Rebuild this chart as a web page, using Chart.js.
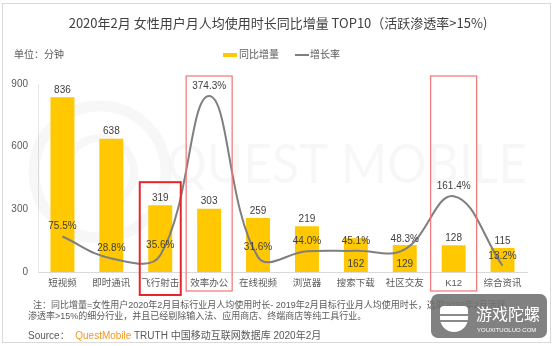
<html>
  <head>
    <meta charset="utf-8">
    <title>女性用户月人均使用时长同比增量 TOP10</title>
    <script type="text/javascript" src="https://cdn.jsdelivr.net/npm/chart.js@4.4.1/dist/chart.umd.min.js"></script>
    <style>
      body { margin: 0; background: #fff; }
      #wrap { position: relative; width: 556px; height: 346px; overflow: hidden;
              font-family: "Liberation Sans", "Noto Sans CJK SC", sans-serif; color: #595959; }
      #wrap canvas { position: absolute; left: 0; top: 0; }
      .txt { position: absolute; white-space: nowrap; line-height: 1; }
      #frame { position: absolute; left: 2px; top: 3px; width: 547px; height: 338px; border: 1px solid #d9d9d9; pointer-events: none; }
      #title { left: 0; width: 556px; top: 16px; text-align: center; font-size: 13px; color: #404040; font-family: "Noto Sans CJK SC", sans-serif; }
      .sw { position: absolute; }
      #logo { position: absolute; left: 431px; top: 294px; width: 116px; height: 44px; border-radius: 7px; background: rgba(112,112,112,0.88); }
    </style>
  </head>
  <body>
    <div id="wrap">
      <canvas id="growthChart" width="556" height="346"></canvas>
      <div id="frame"></div>
      <div class="txt" id="title">2020年2月 女性用户月人均使用时长同比增量 TOP10（活跃渗透率&gt;15%)</div>
      <div class="txt" style="left:14px;top:50px;font-size:10px;">单位：分钟</div>
      <div class="sw" style="left:223px;top:53px;width:14px;height:4px;background:#ffc800;"></div>
      <div class="txt" style="left:239px;top:50px;font-size:10px;">同比增量</div>
      <div class="sw" style="left:295px;top:54px;width:14px;height:2px;background:#7f7f7f;"></div>
      <div class="txt" style="left:310px;top:50px;font-size:10px;">增长率</div>
      <div class="txt" style="left:33px;top:301px;font-size:9px;">注：同比增量=女性用户2020年2月目标行业月人均使用时长- 2019年2月目标行业月人均使用时长，选取2020年2月活跃</div>
      <div class="txt" style="left:28px;top:312px;font-size:9px;">渗透率&gt;15%的细分行业，并且已经剔除输入法、应用商店、终端商店等纯工具行业。</div>
      <div class="txt" style="left:28px;top:331px;font-size:10px;">Source：&nbsp; <span style="color:#f39a1e;">QuestMobile</span> TRUTH 中国移动互联网数据库 2020年2月</div>
      <div id="logo">
        <div class="sw" style="left:9px;top:12px;width:28px;height:26px;border-radius:4px 4px 14px 14px;background:#fff;"></div>
        <div class="sw" style="left:9px;top:20px;width:28px;height:2px;background:#8a8a8a;"></div>
        <div class="sw" style="left:9px;top:26px;width:28px;height:2px;background:#8a8a8a;"></div>
        <div class="txt" style="left:45px;top:11px;font-size:16px;color:#fff;font-family:'Noto Sans CJK SC',sans-serif;">游戏陀螺</div>
        <div class="txt" style="left:46px;top:33px;font-size:6px;color:#fff;">YOUXITUOLUO.COM</div>
      </div>
    </div>
    <script>
      var categories = ['短视频', '即时通讯', '飞行射击', '效率办公', '在线视频', '浏览器', '搜索下载', '社区交友', 'K12', '综合资讯'];
      var increase = [836, 638, 319, 303, 259, 219, 162, 129, 128, 115];
      var growthRate = [75.5, 28.8, 35.6, 374.3, 31.6, 44.0, 45.1, 48.3, 161.4, 13.2];

      // bars whose value label sits inside the bar, and boxed categories
      var insideLabels = [6, 7];
      var boxes = [
        {index: 2, half: 20.5, topValue: 430, extra: 23, color: '#e8262a', width: 2},
        {index: 3, half: 23, topValue: null, extra: 19, color: '#f27474', width: 1.2},
        {index: 8, half: 23, topValue: null, extra: 19, color: '#f27474', width: 1.2}
      ];

      var overlay = {
        id: 'overlay',
        beforeDatasetsDraw: function(chart) {
          var ctx = chart.ctx;
          ctx.save();
          // faint watermark
          ctx.strokeStyle = 'rgba(0,0,0,0.03)';
          ctx.lineWidth = 11;
          ctx.beginPath();
          ctx.arc(100, 172, 66, 0, Math.PI * 2);
          ctx.stroke();
          ctx.lineWidth = 8;
          ctx.beginPath();
          ctx.arc(100, 172, 34, Math.PI * 0.9, Math.PI * 2.3);
          ctx.stroke();
          ctx.fillStyle = 'rgba(0,0,0,0.03)';
          ctx.font = '54px Lato';
          ctx.textBaseline = 'alphabetic';
          ctx.fillText('QUEST MOBILE', 167, 183, 360);
          ctx.restore();
        },
        afterDatasetsDraw: function(chart) {
          var ctx = chart.ctx;
          var area = chart.chartArea;
          var xs = chart.scales.x, ys = chart.scales.y;
          ctx.save();
          ctx.font = '10px "Liberation Sans"';
          ctx.fillStyle = '#404040';
          ctx.textAlign = 'center';
          ctx.textBaseline = 'middle';
          chart.getDatasetMeta(1).data.forEach(function(bar, i) {
            var y = insideLabels.indexOf(i) >= 0 ? area.bottom - 8 : bar.y - 7;
            ctx.fillText(String(increase[i]), bar.x, y);
          });
          chart.getDatasetMeta(0).data.forEach(function(pt, i) {
            ctx.fillText(growthRate[i].toFixed(1) + '%', pt.x, pt.y - 10);
          });
          boxes.forEach(function(b) {
            var cx = xs.getPixelForValue(b.index);
            var top = b.topValue === null ? area.top - 8 : ys.getPixelForValue(b.topValue);
            ctx.strokeStyle = b.color;
            ctx.lineWidth = b.width;
            ctx.strokeRect(cx - b.half, top, b.half * 2, area.bottom + b.extra - top);
          });
          ctx.restore();
        }
      };

      var ctx = document.getElementById('growthChart').getContext('2d');
      var chart = new Chart(ctx, {
        type: 'bar',
        data: {
          labels: categories,
          datasets: [{
              type: 'line',
              label: '增长率',
              data: growthRate,
              yAxisID: 'y1',
              borderColor: '#7f7f7f',
              borderWidth: 2,
              pointRadius: 0,
              tension: 0.4,
              fill: false,
              order: 1
            },
            {
              label: '同比增量',
              data: increase,
              yAxisID: 'y',
              backgroundColor: '#ffc800',
              categoryPercentage: 1,
              barPercentage: 0.49,
              order: 2
            }
          ]
        },
        options: {
          responsive: false,
          animation: false,
          layout: { padding: { left: 11, right: 29, top: 84, bottom: 54 } },
          plugins: { legend: { display: false }, title: { display: false }, tooltip: { enabled: false } },
          scales: {
            x: {
              afterFit: function(scale) { scale.height = 20; },
              grid: { display: false, drawTicks: false },
              border: { display: true, color: '#d9d9d9' },
              ticks: { color: '#595959', font: { size: 9.5, family: '"Liberation Sans", "Noto Sans CJK SC"' }, padding: 6, maxRotation: 0, autoSkip: false }
            },
            y: {
              afterFit: function(scale) { scale.width = 27; },
              min: 0,
              max: 900,
              grid: { display: false, drawTicks: false },
              border: { display: true, color: '#e6e6e6' },
              ticks: { stepSize: 300, color: '#595959', font: { size: 10, family: '"Liberation Sans"' }, padding: 10 }
            },
            y1: { display: false, min: 0, max: 400 }
          }
        },
        plugins: [overlay]
      });
    </script>
  </body>
</html>
